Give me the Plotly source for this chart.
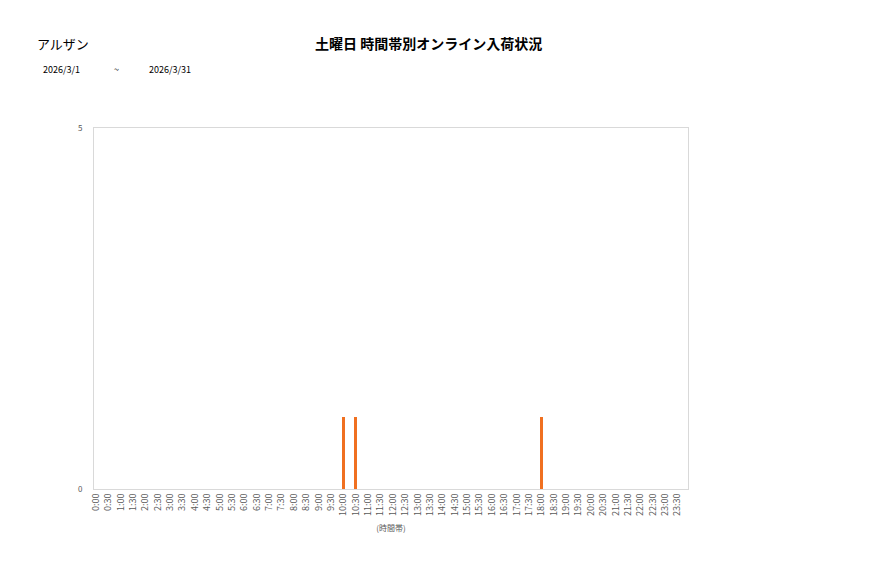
import plotly.graph_objects as go

categories = [f"{h}:{m:02d}" for h in range(24) for m in (0, 30)]
counts = {"10:00": 1, "10:30": 1, "18:00": 1}
values = [counts.get(c, 0) for c in categories]

title = "土曜日 時間帯別オンライン入荷状況"
store = "アルザン"
date_from = "2026/3/1"
date_to = "2026/3/31"
x_title = "(時間帯)"

FONT = "Noto Sans CJK JP"
OFF = 8  # page body margin offset

fig = go.Figure()
fig.add_trace(go.Bar(x=categories, y=values, marker_color="#F07020", width=0.25,
                     marker_line_width=0))

pl, pr, pt, pb = 94 - OFF, 688 - OFF, 128 - OFF, 489 - OFF
fig.update_layout(
    width=877, height=578,
    margin=dict(l=pl, r=877 - pr, t=pt, b=578 - pb),
    paper_bgcolor="white", plot_bgcolor="white",
    font=dict(family=FONT, color="#595959", size=9),
    showlegend=False,
    bargap=0,
)
fig.update_xaxes(type="category", tickangle=-90, tickfont=dict(size=9, color="#595959"),
                 range=[-0.15, len(categories) - 0.15],
                 showline=True, linecolor="#D9D9D9", mirror=True, showgrid=False,
                 ticks="", title=dict(text=x_title, font=dict(size=8, color="#595959"), standoff=10))
fig.update_yaxes(range=[0, 5], tickvals=[0, 5], tickfont=dict(size=8, color="#595959"),
                 showline=True, linecolor="#D9D9D9", mirror=True, showgrid=False,
                 zeroline=False, ticks="", ticklabelstandoff=9)

def add_text(text, px, py, size, anchor="left"):
    fig.add_annotation(text=text, x=(px - OFF - pl) / (pr - pl), y=(pb - (py - OFF)) / (pb - pt),
                       xref="paper", yref="paper", showarrow=False, xanchor=anchor, yanchor="middle",
                       font=dict(size=size, color="#000000", family=FONT))

add_text(f"<b>{title}</b>", 428, 43, 14, "center")
add_text(store, 35, 43, 13)
add_text(date_from, 41, 70, 9)
add_text("~", 112, 70, 9)
add_text(date_to, 147, 70, 9)

fig.write_html("out.html")
